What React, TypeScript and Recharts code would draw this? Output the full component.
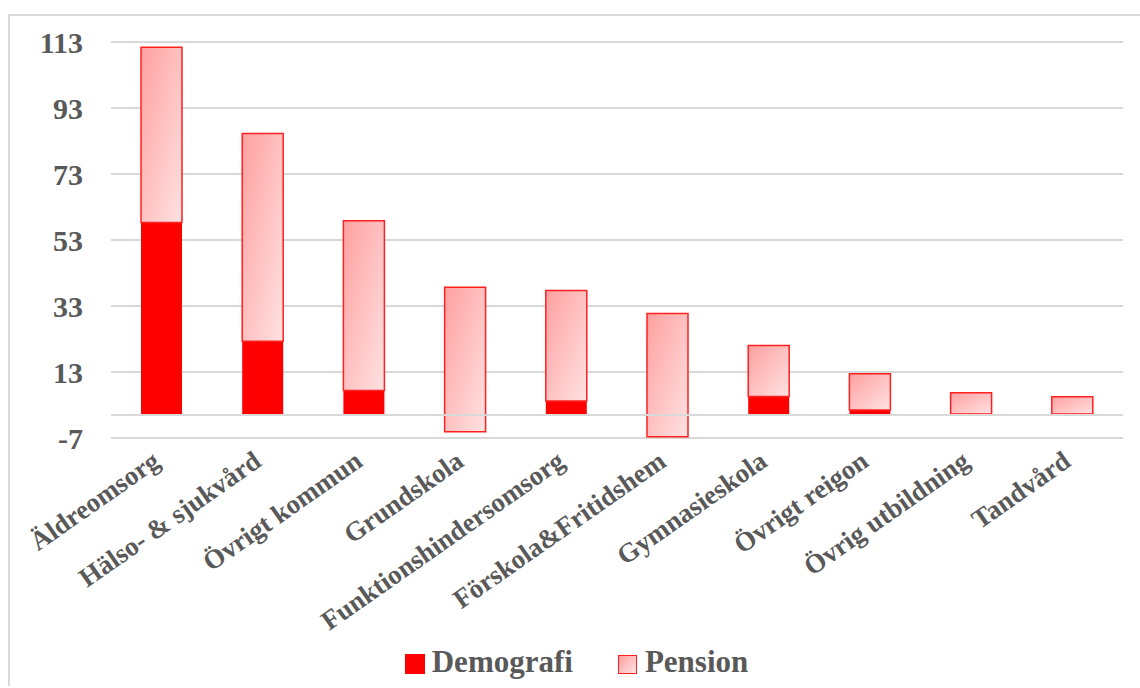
import React from 'react';
import {
  BarChart, Bar, XAxis, YAxis, CartesianGrid, Legend, ReferenceLine
} from 'recharts';

// Values
const categories = [
  'Äldreomsorg', 'Hälso- & sjukvård', 'Övrigt kommun', 'Grundskola',
  'Funktionshindersomsorg', 'Förskola&Fritidshem', 'Gymnasieskola',
  'Övrigt reigon', 'Övrig utbildning', 'Tandvård'
];
const demografi = [58.3, 22.3, 7.4, -5.1, 4.2, -6.6, 5.6, 1.5, 0.3, 0.3];
const pension = [53.1, 63.0, 51.4, 43.8, 33.5, 37.3, 15.4, 11.0, 6.4, 5.2];
const yTicks = [-7, 13, 33, 53, 73, 93, 113];

const data = categories.map((name, i) => ({
  name,
  Demografi: demografi[i],
  Pension: pension[i],
}));

const FONT = "'Liberation Serif', 'Times New Roman', serif";
const TEXT = '#595959';
const GRID = '#d9d9d9';

const CategoryTick = ({ x, y, payload }: any) => (
  <g transform={`translate(${x},${y + 25})`}>
    <text
      transform="rotate(-35)"
      textAnchor="end"
      fill={TEXT}
      fontFamily={FONT}
      fontWeight="bold"
      fontSize={27}
    >
      {payload.value}
    </text>
  </g>
);

const LegendBox = () => (
  <div style={{
    height: 40, display: 'flex', alignItems: 'center', justifyContent: 'center',
    paddingLeft: 3, fontFamily: FONT, fontWeight: 'bold', fontSize: 31, color: TEXT
  }}>
    <span style={{ width: 20, height: 20, background: '#ff0000', display: 'inline-block' }} />
    <span style={{ marginLeft: 7, position: 'relative', top: -2 }}>Demografi</span>
    <span style={{
      marginLeft: 45, width: 17, height: 17, display: 'inline-block',
      border: '1.5px solid #ff2020',
      background: 'linear-gradient(135deg, #ffa0a0, #ffe2e2)'
    }} />
    <span style={{ marginLeft: 8, position: 'relative', top: -2 }}>Pension</span>
  </div>
);

const App: React.FC = () => {
  return (
    <div style={{
      position: 'absolute', left: 8, top: 14, width: 1130, height: 670,
      borderLeft: `2px solid ${GRID}`, borderTop: `2px solid ${GRID}`, background: '#fff'
    }}>
      <BarChart
        width={1130}
        height={670}
        data={data}
        margin={{ top: 26, right: 17, left: 11, bottom: 2 }}
        barSize={41}
      >
        <defs>
          <linearGradient id="pensionGrad" x1="0" y1="0" x2="1" y2="1">
            <stop offset="0%" stopColor="#ffa0a0" />
            <stop offset="100%" stopColor="#ffe2e2" />
          </linearGradient>
        </defs>
        <CartesianGrid vertical={false} stroke={GRID} strokeWidth={2} />
        <XAxis
          dataKey="name"
          interval={0}
          axisLine={false}
          tickLine={false}
          tickSize={0}
          height={206}
          tick={<CategoryTick />}
        />
        <YAxis
          domain={[-7, 113]}
          ticks={yTicks}
          width={90}
          axisLine={false}
          tickLine={false}
          tickSize={0}
          tickMargin={28}
          tick={{ fill: TEXT, fontFamily: FONT, fontWeight: 'bold', fontSize: 30 }}
        />
        <Bar dataKey="Demografi" stackId="a" fill="#ff0000" isAnimationActive={false} />
        <Bar
          dataKey="Pension"
          stackId="a"
          fill="url(#pensionGrad)"
          stroke="#ff2020"
          strokeWidth={1.5}
          isAnimationActive={false}
        />
        <ReferenceLine y={0} stroke={GRID} strokeWidth={2} />
        <Legend
          verticalAlign="bottom"
          content={<LegendBox />}
          wrapperStyle={{ left: 0, width: 1130, bottom: 2 }}
        />
      </BarChart>
    </div>
  );
};

export default App;
